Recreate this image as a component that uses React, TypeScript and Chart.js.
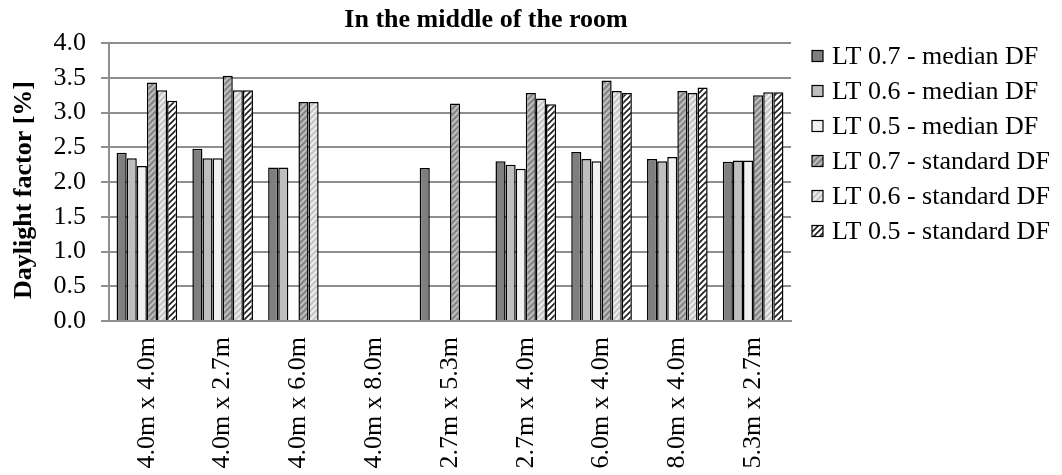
import React, { useEffect, useRef } from 'react';
import { Chart, registerables } from 'chart.js';

Chart.register(...registerables);

const chartTitle = 'In the middle of the room';
const yAxisTitle = 'Daylight factor [%]';
const categories = [
  '4.0m x 4.0m',
  '4.0m x 2.7m',
  '4.0m x 6.0m',
  '4.0m x 8.0m',
  '2.7m x 5.3m',
  '2.7m x 4.0m',
  '6.0m x 4.0m',
  '8.0m x 4.0m',
  '5.3m x 2.7m',
];
const seriesLabels = [
  'LT 0.7 - median DF',
  'LT 0.6 - median DF',
  'LT 0.5 - median DF',
  'LT 0.7 - standard DF',
  'LT 0.6 - standard DF',
  'LT 0.5 - standard DF',
];
const lt07Median = [2.42, 2.48, 2.21, null, 2.2, 2.3, 2.43, 2.33, 2.29];
const lt06Median = [2.34, 2.34, 2.21, null, null, 2.25, 2.33, 2.3, 2.31];
const lt05Median = [2.23, 2.34, null, null, null, 2.19, 2.3, 2.36, 2.31];
const lt07Standard = [3.43, 3.53, 3.15, null, 3.13, 3.28, 3.46, 3.31, 3.25];
const lt06Standard = [3.32, 3.32, 3.15, null, null, 3.2, 3.31, 3.28, 3.29];
const lt05Standard = [3.17, 3.32, null, null, null, 3.12, 3.28, 3.36, 3.29];
const yMin = 0;
const yMax = 4;
const yStep = 0.5;

const FONT = "'Liberation Serif', 'Times New Roman', serif";
const GRID = '#8e8e8e';

function makePattern(bg: string, stripe: string, lw: number): CanvasPattern | string {
  const size = 6;
  const c = document.createElement('canvas');
  c.width = size;
  c.height = size;
  const g = c.getContext('2d');
  if (!g) return bg;
  g.fillStyle = bg;
  g.fillRect(0, 0, size, size);
  g.strokeStyle = stripe;
  g.lineWidth = lw;
  g.beginPath();
  g.moveTo(-1, size + 1);
  g.lineTo(size + 1, -1);
  g.moveTo(-size - 1, size + 1);
  g.lineTo(1, -1);
  g.moveTo(-1, 2 * size + 1);
  g.lineTo(2 * size + 1, -1);
  g.stroke();
  const p = g.createPattern(c, 'repeat');
  return p || bg;
}

const overlayPlugin = {
  id: 'overlay',
  afterDraw(chart: any) {
    const ctx = chart.ctx as CanvasRenderingContext2D;
    ctx.save();
    ctx.fillStyle = '#000';
    ctx.font = `bold 26px ${FONT}`;
    ctx.textAlign = 'center';
    ctx.textBaseline = 'middle';
    ctx.fillText(chartTitle, 486, 20);

    ctx.save();
    ctx.translate(24, 190);
    ctx.rotate(-Math.PI / 2);
    ctx.fillText(yAxisTitle, 0, 0);
    ctx.restore();

    ctx.font = `26px ${FONT}`;
    ctx.textAlign = 'left';
    chart.data.datasets.forEach((ds: any, i: number) => {
      const y = 56 + i * 35;
      ctx.fillStyle = ds.backgroundColor;
      ctx.fillRect(812, y - 5.5, 11, 11);
      ctx.strokeStyle = '#000';
      ctx.lineWidth = 1.2;
      ctx.strokeRect(812, y - 5.5, 11, 11);
      ctx.fillStyle = '#000';
      ctx.fillText(ds.label, 832, y + 1);
    });
    ctx.restore();
  },
};

export default function App() {
  const ref = useRef<HTMLCanvasElement | null>(null);

  useEffect(() => {
    if (!ref.current) return;
    const fills = [
      '#7f7f7f',
      '#bfbfbf',
      '#f2f2f2',
      makePattern('#888888', '#c6c6c6', 1.6),
      makePattern('#c8c8c8', '#f2f2f2', 1.6),
      makePattern('#ffffff', '#1e1e1e', 1.6),
    ];
    const values = [lt07Median, lt06Median, lt05Median, lt07Standard, lt06Standard, lt05Standard];
    const chart = new Chart(ref.current, {
      type: 'bar',
      data: {
        labels: categories,
        datasets: values.map((v, i) => ({
          label: seriesLabels[i],
          data: v,
          backgroundColor: fills[i] as any,
          borderColor: '#000',
          borderWidth: 1.5,
          barPercentage: 1,
          categoryPercentage: 0.8,
        })),
      },
      options: {
        animation: false,
        responsive: true,
        maintainAspectRatio: false,
        layout: { padding: { top: 43, right: 271, left: 0, bottom: 0 } },
        plugins: {
          legend: { display: false },
          title: { display: false },
          tooltip: { enabled: false },
        },
        scales: {
          x: {
            grid: { display: false },
            border: { display: true, color: GRID, width: 2 },
            ticks: {
              color: '#000',
              font: { family: FONT, size: 26 },
              minRotation: 90,
              maxRotation: 90,
              autoSkip: false,
              padding: 8,
            },
            afterFit: (scale: any) => {
              scale.height = 154;
            },
          },
          y: {
            min: yMin,
            max: yMax,
            grid: { color: GRID, lineWidth: 2, tickLength: 8 },
            border: { display: true, color: GRID, width: 2 },
            ticks: {
              stepSize: yStep,
              color: '#000',
              font: { family: FONT, size: 26 },
              padding: 15,
              callback: (v: any) => Number(v).toFixed(1),
            },
            afterFit: (scale: any) => {
              scale.width = 109;
            },
          },
        },
      },
      plugins: [overlayPlugin],
    });
    return () => chart.destroy();
  }, []);

  return (
    <div style={{ position: 'fixed', left: 0, top: 0, width: 1062, height: 475, background: '#fff' }}>
      <canvas ref={ref} />
    </div>
  );
}
